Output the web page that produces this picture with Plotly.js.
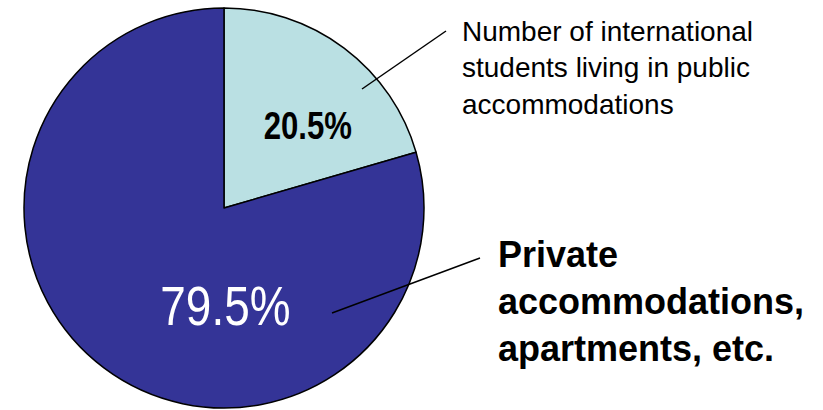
<!DOCTYPE html>
<html>
<head>
<meta charset="utf-8">
<script src="https://cdn.plot.ly/plotly-3.0.1.min.js"></script>
<style>html,body{margin:0;padding:0;background:#fff;}#chart{width:823px;height:410px;}</style>
</head>
<body>
<div id="chart"></div>
<script>
const categories = ["Number of international<br>students living in public<br>accommodations", "Private<br>accommodations,<br>apartments, etc."];
const values = [20.5, 79.5];
const colors = ["#bae0e3", "#343497"];

const W = 823, H = 410;
const px = x => x / W;
const py = y => 1 - y / H;

const trace = {
  type: "pie",
  values: values,
  labels: categories,
  sort: false,
  direction: "clockwise",
  rotation: 0,
  textinfo: "none",
  hoverinfo: "none",
  marker: { colors: colors, line: { color: "#000", width: 1.5 } },
  domain: { x: [px(24), px(424)], y: [py(408), py(8)] },
  showlegend: false
};

const pctText = values.map(v => v.toFixed(1) + "%");

const layout = {
  width: W, height: H,
  margin: { l: 0, r: 0, t: 0, b: 0 },
  paper_bgcolor: "#fff",
  showlegend: false,
  shapes: [
    { type: "line", xref: "paper", yref: "paper", x0: px(362), y0: py(89), x1: px(446), y1: py(31), line: { color: "#000", width: 1.5 } },
    { type: "line", xref: "paper", yref: "paper", x0: px(332), y0: py(313), x1: px(480), y1: py(258), line: { color: "#000", width: 1.5 } }
  ],
  annotations: [
    { text: categories[0], xref: "paper", yref: "paper", x: px(460), y: py(14), xanchor: "left", yanchor: "top", align: "left", showarrow: false,
      font: { family: "Liberation Sans, Arial, sans-serif", size: 28, color: "#000" } },
    { text: "<b>" + categories[1] + "</b>", xref: "paper", yref: "paper", x: px(496), y: py(232), xanchor: "left", yanchor: "top", align: "left", showarrow: false,
      font: { family: "Liberation Sans, Arial, sans-serif", size: 36, color: "#000" } },
    { text: "<b>" + pctText[0] + "</b>", xref: "paper", yref: "paper", x: px(308), y: py(126), xanchor: "center", yanchor: "middle", showarrow: false,
      font: { family: "Liberation Sans, Arial, sans-serif", size: 38, color: "#000" } },
    { text: pctText[1], xref: "paper", yref: "paper", x: px(225), y: py(305), xanchor: "center", yanchor: "middle", showarrow: false,
      font: { family: "Liberation Sans, Arial, sans-serif", size: 56, color: "#fff" } }
  ]
};

Plotly.newPlot("chart", [trace], layout, { displayModeBar: false, staticPlot: true }).then(gd => {
  // condense the percentage labels horizontally (narrow typeface look)
  const anns = gd.querySelectorAll(".annotation");
  [2, 3].forEach(i => {
    const t = anns[i] && anns[i].querySelector("text");
    if (!t) return;
    const bb = t.getBBox();
    const cx = bb.x + bb.width / 2;
    t.setAttribute("transform", `translate(${cx},0) scale(0.82,1) translate(${-cx},0)`);
  });
});
</script>
</body>
</html>
